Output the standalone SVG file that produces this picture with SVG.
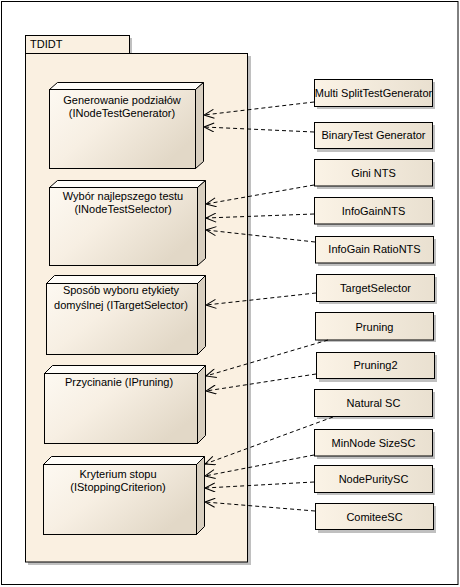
<svg xmlns="http://www.w3.org/2000/svg" width="460" height="587" viewBox="0 0 460 587">
<style>
text{font-family:"Liberation Sans",Arial,sans-serif;font-size:11px;fill:#000}
.c{text-anchor:middle}
.edge{fill:none;stroke:#000;stroke-width:1;stroke-dasharray:4,3}
.front{fill:url(#ng);stroke:#000;stroke-width:1}
.top{fill:#fffdf9;stroke:#000;stroke-width:1}
.side{fill:#d8cfc0;stroke:#000;stroke-width:1}
.box{fill:url(#bg);stroke:#000;stroke-width:1}
.sh{fill:#c0c0c0}
</style>
<defs>
<linearGradient id="ng" x1="0" y1="0" x2="1" y2="0.6">
<stop offset="0" stop-color="#fdf9f2"/><stop offset="0.45" stop-color="#f7efe3"/><stop offset="1" stop-color="#e2d8c7"/>
</linearGradient>
<linearGradient id="bg" x1="0" y1="0" x2="1" y2="0">
<stop offset="0" stop-color="#fbf3e6"/><stop offset="1" stop-color="#e9e0d0"/>
</linearGradient>
<marker id="arr" viewBox="0 0 12 10" refX="11" refY="5" markerWidth="12" markerHeight="10" markerUnits="userSpaceOnUse" orient="auto">
<path d="M1,0.5 L11,5 L1,9.5" fill="none" stroke="#000" stroke-width="1"/>
</marker>
</defs>
<rect x="0" y="0" width="460" height="587" fill="#fff"/>
<rect x="1.5" y="1.5" width="456.5" height="583" fill="none" stroke="#000"/>
<g id="package">
<rect class="sh" x="28" y="38" width="104" height="18"/>
<rect class="sh" x="28" y="56" width="223" height="509"/>
<rect x="25.5" y="35.5" width="104" height="18" fill="#faf0e1" stroke="#000"/>
<rect x="25.5" y="53.5" width="222" height="508.5" fill="#faf0e1" stroke="#000"/>
<text x="30" y="48">TDIDT</text>
</g>
<g id="n1">
<polygon class="top" points="49.5,89.5 57.5,82.5 203.5,82.5 195.5,89.5"/>
<polygon class="side" points="195.5,89.5 203.5,82.5 203.5,161.5 195.5,168.5"/>
<rect class="front" x="49.5" y="89.5" width="146" height="79"/>
<text class="c" x="122" y="104">Generowanie podziałów</text>
<text class="c" x="122" y="117">(INodeTestGenerator)</text>
</g>
<g id="n2">
<polygon class="top" points="49.5,187.5 57.5,180.5 205.5,180.5 197.5,187.5"/>
<polygon class="side" points="197.5,187.5 205.5,180.5 205.5,258.5 197.5,265.5"/>
<rect class="front" x="49.5" y="187.5" width="148" height="78"/>
<text class="c" x="123" y="200">Wybór najlepszego testu</text>
<text class="c" x="123" y="213">(INodeTestSelector)</text>
</g>
<g id="n3">
<polygon class="top" points="46.5,283.5 54.5,275.5 205.5,275.5 197.5,283.5"/>
<polygon class="side" points="197.5,283.5 205.5,275.5 205.5,346.5 197.5,354.5"/>
<rect class="front" x="46.5" y="283.5" width="151" height="71"/>
<text class="c" x="121" y="294">Sposób wyboru etykiety</text>
<text class="c" x="121" y="309">domyślnej (ITargetSelector)</text>
</g>
<g id="n4">
<polygon class="top" points="44.5,373.5 52.5,365.5 205.5,365.5 197.5,373.5"/>
<polygon class="side" points="197.5,373.5 205.5,365.5 205.5,435.5 197.5,443.5"/>
<rect class="front" x="44.5" y="373.5" width="153" height="70"/>
<text class="c" x="119" y="386">Przycinanie (IPruning)</text>
</g>
<g id="n5">
<polygon class="top" points="43.5,464.5 51.5,456.5 204.5,456.5 196.5,464.5"/>
<polygon class="side" points="196.5,464.5 204.5,456.5 204.5,526.5 196.5,534.5"/>
<rect class="front" x="43.5" y="464.5" width="153" height="70"/>
<text class="c" x="118" y="478">Kryterium stopu</text>
<text class="c" x="118" y="491">(IStoppingCriterion)</text>
</g>
<g id="b1"><rect class="sh" x="317" y="82" width="118" height="27"/><rect class="box" x="314.5" y="79.5" width="118" height="27"/><text class="c" x="373.5" y="97">Multi SplitTestGenerator</text></g>
<g id="b2"><rect class="sh" x="317" y="125" width="118" height="27"/><rect class="box" x="314.5" y="122.5" width="118" height="26"/><text class="c" x="373.5" y="139">BinaryTest Generator</text></g>
<g id="b3"><rect class="sh" x="317" y="162" width="118" height="27"/><rect class="box" x="314.5" y="159.5" width="118" height="26.5"/><text class="c" x="373.5" y="177">Gini NTS</text></g>
<g id="b4"><rect class="sh" x="317" y="200" width="118" height="27"/><rect class="box" x="314.5" y="197.5" width="118" height="26.5"/><text class="c" x="373.5" y="215">InfoGainNTS</text></g>
<g id="b5"><rect class="sh" x="318" y="239" width="118" height="27"/><rect class="box" x="315.5" y="236.5" width="118" height="26.5"/><text class="c" x="374.5" y="253">InfoGain RatioNTS</text></g>
<g id="b6"><rect class="sh" x="319" y="277" width="118" height="27"/><rect class="box" x="316.5" y="274.5" width="118" height="27"/><text class="c" x="375.5" y="292">TargetSelector</text></g>
<g id="b7"><rect class="sh" x="318" y="315" width="118" height="27"/><rect class="box" x="315.5" y="312.5" width="118" height="27.5"/><text class="c" x="374.5" y="331">Pruning</text></g>
<g id="b8"><rect class="sh" x="319" y="355" width="118" height="27"/><rect class="box" x="316.5" y="352.5" width="118" height="26"/><text class="c" x="375.5" y="369">Pruning2</text></g>
<g id="b9"><rect class="sh" x="317" y="392" width="118" height="27"/><rect class="box" x="314.5" y="389.5" width="118" height="27"/><text class="c" x="373.5" y="407">Natural SC</text></g>
<g id="b10"><rect class="sh" x="317" y="432" width="118" height="27"/><rect class="box" x="314.5" y="429.5" width="118" height="26.5"/><text class="c" x="373.5" y="447">MinNode SizeSC</text></g>
<g id="b11"><rect class="sh" x="317" y="468" width="118" height="27"/><rect class="box" x="314.5" y="465.5" width="118" height="27"/><text class="c" x="373.5" y="483">NodePuritySC</text></g>
<g id="b12"><rect class="sh" x="318" y="506" width="118" height="27"/><rect class="box" x="315.5" y="503.5" width="118" height="26"/><text class="c" x="374.5" y="521">ComiteeSC</text></g>
<g id="connectors">
<path class="edge" d="M314,102 L204,115" marker-end="url(#arr)"/>
<path class="edge" d="M314,132 L204,127" marker-end="url(#arr)"/>
<path class="edge" d="M314,185 L206,204" marker-end="url(#arr)"/>
<path class="edge" d="M314,214 L206,218" marker-end="url(#arr)"/>
<path class="edge" d="M315,242 L206,230" marker-end="url(#arr)"/>
<path class="edge" d="M316,293 L206,305" marker-end="url(#arr)"/>
<path class="edge" d="M328,340 L206,376" marker-end="url(#arr)"/>
<path class="edge" d="M316,374 L206,391" marker-end="url(#arr)"/>
<path class="edge" d="M333,417 L205,464" marker-end="url(#arr)"/>
<path class="edge" d="M314,455 L205,476" marker-end="url(#arr)"/>
<path class="edge" d="M314,482 L205,488" marker-end="url(#arr)"/>
<path class="edge" d="M315,511 L205,502" marker-end="url(#arr)"/>
</g>
</svg>
